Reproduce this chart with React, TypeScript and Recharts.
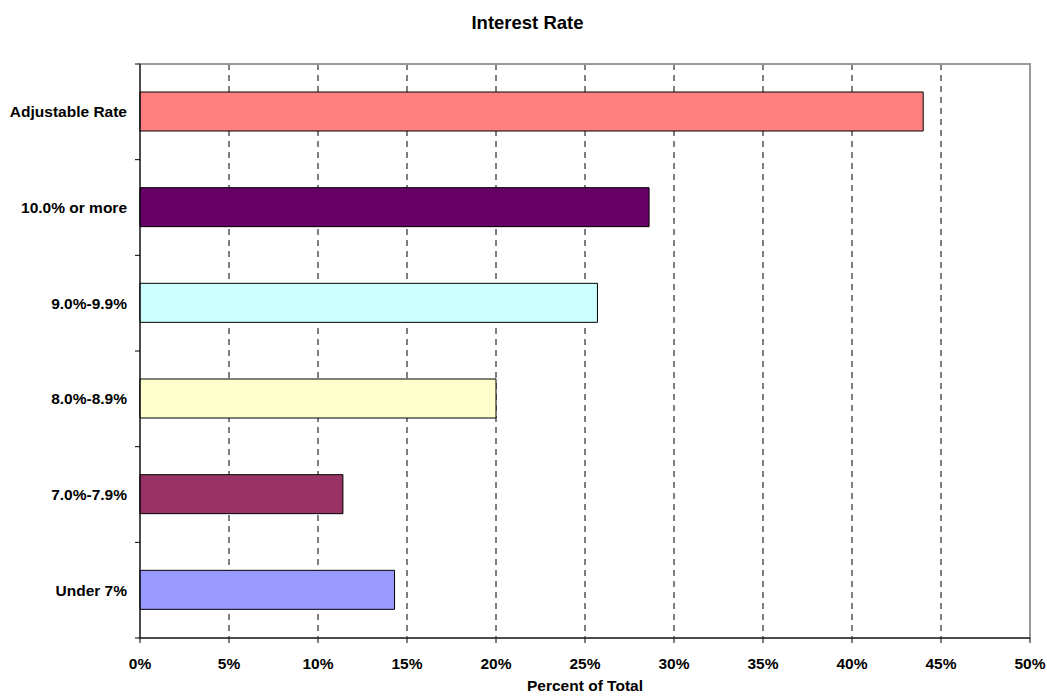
import React from 'react';
import { BarChart, Bar, Cell, XAxis, YAxis, CartesianGrid, ReferenceArea } from 'recharts';

const categories = ['Adjustable Rate', '10.0% or more', '9.0%-9.9%', '8.0%-8.9%', '7.0%-7.9%', 'Under 7%'];
const percents = [44.0, 28.6, 25.7, 20.0, 11.4, 14.3];
const barColors = ['#FF8080', '#660066', '#CCFFFF', '#FFFFCC', '#993366', '#9999FF'];
const xTicks = [0, 5, 10, 15, 20, 25, 30, 35, 40, 45, 50];
const bandTicks = [0, 1, 2, 3, 4, 5, 6];

const data = categories.map((name, i) => ({ name, value: percents[i], band: i }));

const font = 'Arial, "Liberation Sans", Helvetica, sans-serif';
const labelStyle = { fontFamily: font, fontSize: 15.5, fontWeight: 700, fill: '#000' };

export default function App() {
  return (
    <div style={{ position: 'relative', width: 1047, height: 696, background: '#fff', overflow: 'hidden' }}>
      <style>{'body { margin: 0; overflow: hidden; }'}</style>
      <div
        style={{
          position: 'absolute',
          top: 12,
          left: 0,
          width: 1055,
          textAlign: 'center',
          fontFamily: font,
          fontSize: 18.5,
          fontWeight: 700,
        }}
      >
        Interest Rate
      </div>
      <div
        style={{
          position: 'absolute',
          top: 677,
          left: 140,
          width: 890,
          textAlign: 'center',
          fontFamily: font,
          fontSize: 15.5,
          fontWeight: 700,
        }}
      >
        Percent of Total
      </div>
      <BarChart
        width={1047}
        height={696}
        data={data}
        layout="vertical"
        margin={{ top: 64, right: 17, bottom: 0, left: 0 }}
        barSize={39}
      >
        <CartesianGrid horizontal={false} stroke="#000" strokeDasharray="6 5" yAxisId="cat" />
        <ReferenceArea x1={0} x2={50} yAxisId="cat" fill="none" stroke="#999" strokeWidth={2} ifOverflow="visible" />
        <XAxis
          type="number"
          dataKey="value"
          domain={[0, 50]}
          ticks={xTicks}
          interval={0}
          tickFormatter={(v: number) => `${v}%`}
          stroke="#000"
          tickSize={5}
          tickMargin={15}
          tick={labelStyle}
          height={58}
        />
        <YAxis
          yAxisId="band"
          type="number"
          dataKey="band"
          domain={[0, 6]}
          allowDataOverflow
          ticks={bandTicks}
          interval={0}
          orientation="left"
          width={1}
          tickSize={5}
          stroke="#000"
          tickFormatter={() => ''}
        />
        <YAxis
          yAxisId="cat"
          type="category"
          dataKey="name"
          width={139}
          tickLine={false}
          axisLine={false}
          tickMargin={6}
          tick={labelStyle}
        />
        <Bar dataKey="value" yAxisId="cat" stroke="#000" strokeWidth={1} isAnimationActive={false}>
          {data.map((_, i) => (
            <Cell key={`cell-${i}`} fill={barColors[i]} />
          ))}
        </Bar>
      </BarChart>
    </div>
  );
}
